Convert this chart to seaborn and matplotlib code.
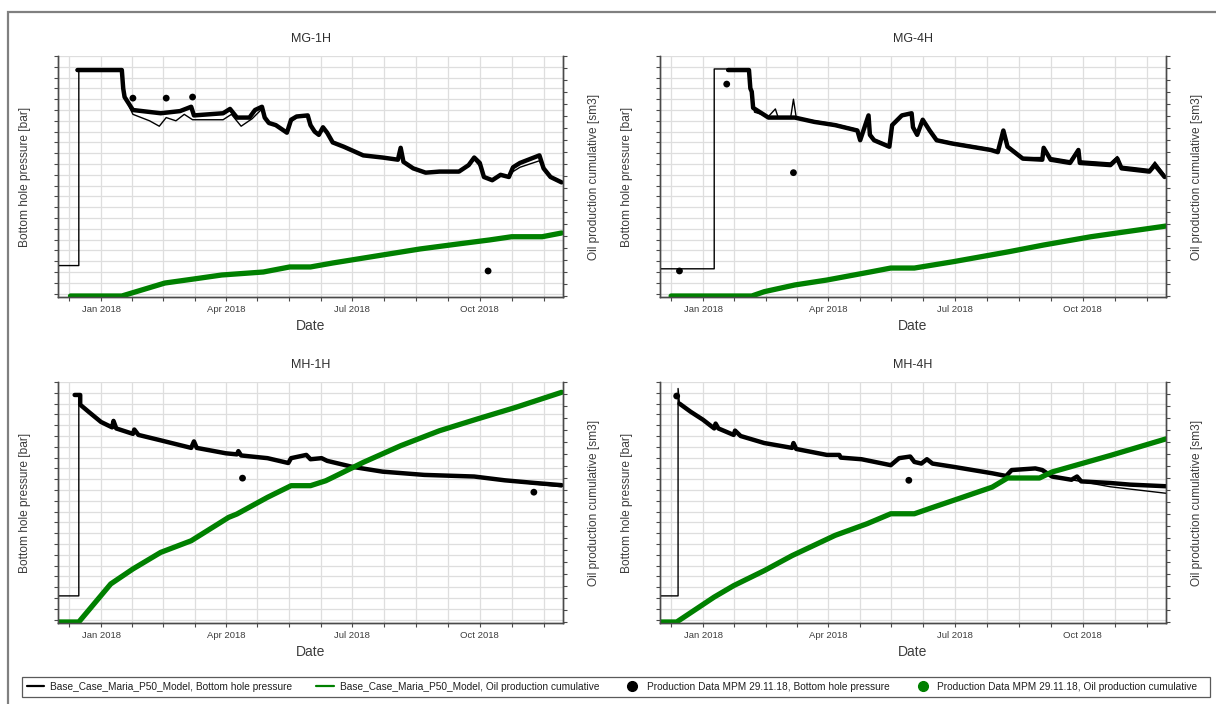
import numpy as np
import pandas as pd
import matplotlib
matplotlib.use("Agg")
import matplotlib.pyplot as plt
import matplotlib.dates as mdates
from matplotlib.lines import Line2D
from matplotlib.patches import Rectangle
from matplotlib.ticker import MultipleLocator, FixedLocator, NullFormatter
import seaborn as sns

sns.set_style("ticks")
plt.rcParams["font.family"] = ["Liberation Sans", "DejaVu Sans"]

WELLS = ["MG-1H", "MG-4H", "MH-1H", "MH-4H"]
X_TICK_LABELS = ["Jan 2018", "Apr 2018", "Jul 2018", "Oct 2018"]
X_TICK_DATES = ["2018-01-01", "2018-04-01", "2018-07-01", "2018-10-01"]
X_RANGE = ["2017-12-01", "2018-11-30"]

# ---------------- MG-1H ----------------
MG1H_OBS_DATES = ["2017-12-15", "2017-12-22", "2018-01-01", "2018-01-16", "2018-01-17", "2018-01-18",
                  "2018-01-24", "2018-02-13", "2018-02-27", "2018-03-07", "2018-03-09", "2018-03-30",
                  "2018-04-04", "2018-04-09", "2018-04-18", "2018-04-22", "2018-04-27", "2018-04-29",
                  "2018-05-02", "2018-05-07", "2018-05-15", "2018-05-18", "2018-05-22", "2018-05-30",
                  "2018-06-01", "2018-06-04", "2018-06-07", "2018-06-10", "2018-06-13", "2018-06-17",
                  "2018-06-25", "2018-07-09", "2018-07-23", "2018-08-03", "2018-08-05", "2018-08-07",
                  "2018-08-14", "2018-08-23", "2018-09-02", "2018-09-16", "2018-09-23", "2018-09-27",
                  "2018-10-01", "2018-10-04", "2018-10-10", "2018-10-16", "2018-10-22", "2018-10-25",
                  "2018-10-30", "2018-11-13", "2018-11-16", "2018-11-21", "2018-11-29"]
MG1H_OBS_BHP = [357, 357, 357, 357, 340, 332,
                320, 317, 319, 323, 315, 317,
                321, 313, 313, 320, 323, 313,
                308, 306, 299, 311, 314, 315,
                306, 300, 297, 304, 299, 290,
                286, 278, 276, 274, 285, 272,
                266, 262, 263, 263, 269, 276,
                271, 258, 255, 260, 258, 267,
                271, 278, 266, 258, 253]
MG1H_MODEL_DATES = ["2017-12-01", "2017-12-16", "2017-12-16", "2018-01-16", "2018-01-18", "2018-01-24",
                    "2018-02-05", "2018-02-12", "2018-02-17", "2018-02-24", "2018-03-02", "2018-03-08",
                    "2018-03-30", "2018-04-05", "2018-04-12", "2018-04-20", "2018-04-27", "2018-04-29",
                    "2018-05-02", "2018-05-07", "2018-05-15", "2018-05-18", "2018-05-22", "2018-05-30",
                    "2018-06-01", "2018-06-04", "2018-06-07", "2018-06-10", "2018-06-13", "2018-06-17",
                    "2018-06-25", "2018-07-09", "2018-07-23", "2018-08-03", "2018-08-05", "2018-08-07",
                    "2018-08-14", "2018-08-23", "2018-09-02", "2018-09-16", "2018-09-23", "2018-09-27",
                    "2018-10-01", "2018-10-04", "2018-10-10", "2018-10-16", "2018-10-22", "2018-10-25",
                    "2018-10-30", "2018-11-13", "2018-11-16", "2018-11-21", "2018-11-29"]
MG1H_MODEL_BHP = [176, 176, 357, 357, 332, 316,
                  310, 305, 313, 310, 316, 311,
                  311, 316, 305, 312, 321, 313,
                  308, 306, 299, 309, 313, 314,
                  306, 300, 297, 303, 299, 290,
                  286, 278, 276, 274, 283, 272,
                  266, 262, 263, 263, 268, 274,
                  268, 258, 256, 259, 258, 263,
                  267, 273, 265, 258, 253]
MG1H_SPOT_DATES = ["2018-01-24", "2018-02-17", "2018-03-08", "2018-10-07"]
MG1H_SPOT_BHP = [331, 331, 332, 171]
MG1H_OIL_DATES = ["2017-12-10", "2018-01-16", "2018-02-16", "2018-03-09", "2018-03-29", "2018-04-28",
                  "2018-05-17", "2018-06-01", "2018-06-17", "2018-07-23", "2018-08-19", "2018-09-15",
                  "2018-10-08", "2018-10-24", "2018-11-15", "2018-11-29"]
MG1H_OIL = [0, 0, 10800, 14200, 17500, 20000,
            24200, 24200, 27500, 34200, 39200, 43300,
            46700, 49400, 49400, 52500]

# ---------------- MG-4H ----------------
MG4H_OBS_DATES = ["2018-01-19", "2018-02-03", "2018-02-04", "2018-02-05", "2018-02-06", "2018-02-17",
                  "2018-03-08", "2018-03-22", "2018-04-06", "2018-04-22", "2018-04-24", "2018-04-30",
                  "2018-05-01", "2018-05-04", "2018-05-15", "2018-05-17", "2018-05-24", "2018-05-31",
                  "2018-06-01", "2018-06-04", "2018-06-08", "2018-06-13", "2018-06-18", "2018-06-29",
                  "2018-07-27", "2018-08-01", "2018-08-05", "2018-08-08", "2018-08-19", "2018-09-02",
                  "2018-09-03", "2018-09-08", "2018-09-22", "2018-09-28", "2018-09-29", "2018-10-21",
                  "2018-10-26", "2018-10-29", "2018-11-18", "2018-11-22", "2018-11-29"]
MG4H_OBS_BHP = [357, 357, 340, 337, 322, 313,
                313, 309, 306, 301, 292, 315,
                297, 292, 286, 306, 315, 317,
                304, 297, 311, 301, 292, 289,
                283, 281, 301, 286, 275, 274,
                285, 274, 271, 283, 271, 269,
                275, 266, 263, 269, 258]
MG4H_MODEL_DATES = ["2017-12-01", "2018-01-09", "2018-01-09", "2018-02-03", "2018-02-05", "2018-02-07",
                    "2018-02-17", "2018-02-22", "2018-02-24", "2018-03-05", "2018-03-07", "2018-03-09",
                    "2018-03-22", "2018-04-06", "2018-04-22", "2018-04-24", "2018-04-30", "2018-05-01",
                    "2018-05-04", "2018-05-15", "2018-05-17", "2018-05-24", "2018-05-31", "2018-06-01",
                    "2018-06-04", "2018-06-08", "2018-06-13", "2018-06-18", "2018-06-29", "2018-07-27",
                    "2018-08-01", "2018-08-05", "2018-08-08", "2018-08-19", "2018-09-02", "2018-09-03",
                    "2018-09-08", "2018-09-22", "2018-09-28", "2018-09-29", "2018-10-21", "2018-10-26",
                    "2018-10-29", "2018-11-18", "2018-11-22", "2018-11-29"]
MG4H_MODEL_BHP = [173, 173, 358, 358, 336, 318,
                  314, 321, 313, 313, 330, 313,
                  310, 307, 302, 293, 314, 298,
                  293, 287, 306, 315, 317, 305,
                  298, 311, 302, 293, 290, 284,
                  282, 300, 287, 276, 276, 286,
                  276, 273, 284, 273, 271,
                  277, 268, 265, 272, 260]
MG4H_SPOT_DATES = ["2017-12-15", "2018-01-18", "2018-03-07"]
MG4H_SPOT_BHP = [171, 344, 262]
MG4H_OIL_DATES = ["2017-12-09", "2018-02-05", "2018-02-14", "2018-03-08", "2018-03-31", "2018-05-02",
                  "2018-05-16", "2018-06-02", "2018-06-30", "2018-08-09", "2018-09-03", "2018-10-07",
                  "2018-11-30"]
MG4H_OIL = [0, 0, 3600, 9200, 13300, 20200,
            23300, 23300, 28600, 36900, 42500, 49400,
            58300]

# ---------------- MH-1H ----------------
MH1H_OBS_DATES = ["2017-12-13", "2017-12-17", "2017-12-17", "2017-12-23", "2018-01-01", "2018-01-09",
                  "2018-01-10", "2018-01-12", "2018-01-24", "2018-01-25", "2018-01-28", "2018-02-13",
                  "2018-03-07", "2018-03-09", "2018-03-11", "2018-04-01", "2018-04-09", "2018-04-10",
                  "2018-04-12", "2018-05-01", "2018-05-16", "2018-05-18", "2018-05-29", "2018-06-01",
                  "2018-06-09", "2018-06-13", "2018-07-01", "2018-07-23", "2018-08-22", "2018-09-27",
                  "2018-10-19", "2018-11-10", "2018-11-29"]
MH1H_OBS_BHP = [358, 358, 349, 342.5, 333, 328,
                334, 327, 322, 326, 321, 316,
                309, 315, 309, 304, 303, 306,
                302, 299.5, 295, 299.5, 302.5, 298.5,
                299.5, 297, 291.5, 287, 284, 282.5,
                279, 276.5, 274.5]
MH1H_MODEL_DATES = ["2017-12-01", "2017-12-16", "2017-12-16", "2017-12-23", "2018-01-01", "2018-01-09",
                    "2018-01-10", "2018-01-12", "2018-01-24", "2018-01-25", "2018-01-28", "2018-02-13",
                    "2018-03-07", "2018-03-09", "2018-03-11", "2018-04-01", "2018-04-09", "2018-04-10",
                    "2018-04-12", "2018-05-01", "2018-05-16", "2018-05-18", "2018-05-29", "2018-06-01",
                    "2018-06-09", "2018-06-13", "2018-07-01", "2018-07-23", "2018-08-22", "2018-09-27",
                    "2018-10-19", "2018-11-10", "2018-11-29"]
MH1H_MODEL_BHP = [172, 172, 350, 342.5, 333, 328,
                  334, 327, 322, 326, 321, 316,
                  309, 315, 309, 304, 303, 306,
                  302, 299.5, 295, 299.5, 302.5, 298.5,
                  299.5, 297, 291.5, 287, 284, 282,
                  278.5, 275.5, 273]
MH1H_SPOT_DATES = ["2018-04-13", "2018-11-09"]
MH1H_SPOT_BHP = [281, 268]
MH1H_OIL_DATES = ["2017-12-01", "2017-12-16", "2018-01-08", "2018-01-24", "2018-02-13", "2018-03-07",
                  "2018-04-03", "2018-04-09", "2018-05-01", "2018-05-18", "2018-06-01", "2018-06-12",
                  "2018-06-17", "2018-07-09", "2018-08-05", "2018-09-02", "2018-09-29", "2018-10-27",
                  "2018-11-29"]
MH1H_OIL = [0, 0, 31700, 44200, 58000, 67700,
            87200, 90000, 103900, 113600, 113600, 117700,
            120500, 133000, 146900, 159400, 169100, 178900,
            191400]

# ---------------- MH-4H ----------------
MH4H_OBS_DATES = ["2017-12-15", "2017-12-23", "2018-01-01", "2018-01-09", "2018-01-10", "2018-01-12",
                  "2018-01-23", "2018-01-24", "2018-01-28", "2018-02-14", "2018-03-06", "2018-03-07",
                  "2018-03-09", "2018-03-31", "2018-04-09", "2018-04-10", "2018-04-25", "2018-05-16",
                  "2018-05-22", "2018-05-30", "2018-06-02", "2018-06-07", "2018-06-11", "2018-06-15",
                  "2018-06-30", "2018-07-28", "2018-08-07", "2018-08-11", "2018-08-28", "2018-09-02",
                  "2018-09-09", "2018-09-23", "2018-09-27", "2018-09-30", "2018-10-21", "2018-11-04",
                  "2018-11-30"]
MH4H_OBS_BHP = [350, 342.5, 335, 327, 331.5, 327,
                321, 325, 320, 313.5, 309, 313.5,
                308, 302.5, 302.5, 300, 298.5, 293,
                299.5, 301, 296, 294.5, 298.5, 294.5,
                291.5, 285.5, 283, 288.5, 290, 288.5,
                282.5, 279.5, 282.5, 278, 276.5, 275,
                273.5]
MH4H_MODEL_DATES = ["2017-12-01", "2017-12-14", "2017-12-14", "2017-12-15", "2017-12-23", "2018-01-01",
                    "2018-01-09", "2018-01-10", "2018-01-12", "2018-01-23", "2018-01-24", "2018-01-28",
                    "2018-02-14", "2018-03-06", "2018-03-07", "2018-03-09", "2018-03-31", "2018-04-09",
                    "2018-04-10", "2018-04-25", "2018-05-16", "2018-05-22", "2018-05-30", "2018-06-02",
                    "2018-06-07", "2018-06-11", "2018-06-15", "2018-06-30", "2018-07-28", "2018-08-07",
                    "2018-08-11", "2018-08-28", "2018-09-02", "2018-09-09", "2018-09-23", "2018-10-21",
                    "2018-11-30"]
MH4H_MODEL_BHP = [172, 172, 364, 350, 342.5, 335,
                  327, 331.5, 327, 321, 325, 320,
                  313.5, 309, 313.5, 308, 302.5, 302.5,
                  300, 298.5, 293, 299.5, 301, 296,
                  294.5, 298.5, 294.5, 291.5, 285.5, 283,
                  288.5, 290, 288.5, 282.5, 279.5, 273,
                  267]
MH4H_SPOT_DATES = ["2017-12-13", "2018-05-29"]
MH4H_SPOT_BHP = [357, 279]
MH4H_OIL_DATES = ["2017-12-01", "2017-12-13", "2018-01-09", "2018-01-23", "2018-02-14", "2018-03-06",
                  "2018-04-06", "2018-04-29", "2018-05-16", "2018-06-02", "2018-06-16", "2018-06-30",
                  "2018-07-28", "2018-08-08", "2018-08-31", "2018-09-09", "2018-10-21", "2018-11-30"]
MH4H_OIL = [0, 0, 20800, 30300, 42800, 55300,
            72200, 81900, 90200, 90200, 95800, 101300,
            112400, 120000, 120000, 125000, 138800, 152600]

SERIES = {
    "MG-1H": (MG1H_OBS_DATES, MG1H_OBS_BHP, MG1H_MODEL_DATES, MG1H_MODEL_BHP,
              MG1H_SPOT_DATES, MG1H_SPOT_BHP, MG1H_OIL_DATES, MG1H_OIL),
    "MG-4H": (MG4H_OBS_DATES, MG4H_OBS_BHP, MG4H_MODEL_DATES, MG4H_MODEL_BHP,
              MG4H_SPOT_DATES, MG4H_SPOT_BHP, MG4H_OIL_DATES, MG4H_OIL),
    "MH-1H": (MH1H_OBS_DATES, MH1H_OBS_BHP, MH1H_MODEL_DATES, MH1H_MODEL_BHP,
              MH1H_SPOT_DATES, MH1H_SPOT_BHP, MH1H_OIL_DATES, MH1H_OIL),
    "MH-4H": (MH4H_OBS_DATES, MH4H_OBS_BHP, MH4H_MODEL_DATES, MH4H_MODEL_BHP,
              MH4H_SPOT_DATES, MH4H_SPOT_BHP, MH4H_OIL_DATES, MH4H_OIL),
}

MODEL_NAME = "Base_Case_Maria_P50_Model"
DATA_NAME = "Production Data MPM 29.11.18"

BLACK = "#000000"
GREEN = "#008000"
TEXT = "#3c3c3c"
SPINE = "#4a4a4a"
GRID = "#dedede"

W, H = 1216, 704
fig = plt.figure(figsize=(W / 100, H / 100), dpi=100)

# outer frame of the report page
fig.patches.append(Rectangle((8 / W, -0.1), 1.2, 0.1 + 1 - 12 / H, transform=fig.transFigure,
                             fill=False, edgecolor="#808080", linewidth=1.6, zorder=0))


def axes_rect(left, top, right, bottom):
    return [left / W, 1 - bottom / H, (right - left) / W, (bottom - top) / H]


RECTS = {
    "MG-1H": axes_rect(58, 56, 563, 297),
    "MG-4H": axes_rect(660, 56, 1166, 297),
    "MH-1H": axes_rect(58, 382, 563, 623),
    "MH-4H": axes_rect(660, 382, 1166, 623),
}

x_lo, x_hi = pd.to_datetime(X_RANGE)
quarters = mdates.date2num(pd.to_datetime(["2017-10-01"] + X_TICK_DATES + ["2019-01-01"]))
minor_pos = []
for a, b in zip(quarters[:-1], quarters[1:]):
    minor_pos.extend(np.linspace(a, b, 5)[1:-1])
major_pos = mdates.date2num(pd.to_datetime(X_TICK_DATES))

for well in WELLS:
    (obs_d, obs_v, mod_d, mod_v, spot_d, spot_v, oil_d, oil_v) = SERIES[well]
    ax = fig.add_axes(RECTS[well])
    ax2 = ax.twinx()

    obs = pd.DataFrame({"date": pd.to_datetime(obs_d), "bhp": obs_v})
    mod = pd.DataFrame({"date": pd.to_datetime(mod_d), "bhp": mod_v})
    spot = pd.DataFrame({"date": pd.to_datetime(spot_d), "bhp": spot_v})
    oil = pd.DataFrame({"date": pd.to_datetime(oil_d), "oil": oil_v})

    # bottom hole pressure: observed (dense daily dots, drawn as a heavy trace) and simulated
    sns.lineplot(data=obs, x="date", y="bhp", ax=ax, color=BLACK, linewidth=3.2,
                 estimator=None, sort=False, solid_capstyle="round",
                 solid_joinstyle="round", zorder=3)
    sns.lineplot(data=mod, x="date", y="bhp", ax=ax, color=BLACK, linewidth=1.0,
                 estimator=None, sort=False, zorder=4)
    sns.scatterplot(data=spot, x="date", y="bhp", ax=ax, color=BLACK, s=24,
                    edgecolor="none", zorder=5)

    # cumulative oil on the secondary axis
    sns.lineplot(data=oil, x="date", y="oil", ax=ax2, color=GREEN, linewidth=3.8,
                 estimator=None, sort=False, solid_capstyle="round")
    sns.lineplot(data=oil, x="date", y="oil", ax=ax2, color=GREEN, linewidth=1.0,
                 estimator=None, sort=False)

    ax.set_xlim(x_lo, x_hi)
    ax.set_ylim(146.9, 370)
    ax2.set_ylim(-833, 200000)

    ax.xaxis.set_major_locator(FixedLocator(major_pos))
    ax.xaxis.set_minor_locator(FixedLocator(minor_pos))
    ax.set_xticklabels(X_TICK_LABELS)
    ax.xaxis.set_minor_formatter(NullFormatter())
    ax.yaxis.set_major_locator(MultipleLocator(10))
    ax.yaxis.set_major_formatter(NullFormatter())
    ax2.yaxis.set_major_locator(MultipleLocator(10000))
    ax2.yaxis.set_major_formatter(NullFormatter())

    ax.grid(True, which="both", axis="x", color=GRID, linewidth=0.9)
    ax.grid(True, which="major", axis="y", color=GRID, linewidth=0.9)
    ax.set_axisbelow(True)
    ax2.grid(False)

    for a in (ax, ax2):
        a.spines["top"].set_visible(False)
        for s in ("left", "right", "bottom"):
            a.spines[s].set_color(SPINE)
            a.spines[s].set_linewidth(1.0)
    ax.tick_params(axis="x", which="both", length=3, width=0.8, color=SPINE,
                   labelsize=6.8, labelcolor=TEXT, pad=3)
    ax.tick_params(axis="y", which="both", length=3, width=0.8, color=SPINE)
    ax2.tick_params(axis="y", which="both", length=3, width=0.8, color=SPINE)

    ax.set_title(well, fontsize=9, color="#2e2e2e", pad=10)
    ax.set_xlabel("Date", fontsize=10, color=TEXT)
    ax.xaxis.label.set_verticalalignment("center")
    ax.xaxis.set_label_coords(0.5, -29.5 / 241)
    ax.set_ylabel("Bottom hole pressure [bar]", fontsize=8.6, color=TEXT)
    ax.yaxis.label.set_verticalalignment("center")
    ax.yaxis.set_label_coords(-33 / 505, 0.5)
    ax2.set_ylabel("Oil production cumulative [sm3]", fontsize=8.6, color=TEXT)
    ax2.yaxis.label.set_verticalalignment("center")
    ax2.yaxis.set_label_coords(1 + 31 / 505, 0.5)

# shared legend along the bottom edge
fig.patches.append(Rectangle((22 / W, 1 - 697 / H), 1188 / W, 20 / H, transform=fig.transFigure,
                             fill=False, edgecolor="#5a5a5a", linewidth=0.9))
handles = [
    Line2D([], [], color=BLACK, linewidth=1.6),
    Line2D([], [], color=GREEN, linewidth=1.6),
    Line2D([], [], color=BLACK, linestyle="none", marker="o", markersize=7),
    Line2D([], [], color=GREEN, linestyle="none", marker="o", markersize=7),
]
labels = [f"{MODEL_NAME}, Bottom hole pressure", f"{MODEL_NAME}, Oil production cumulative",
          f"{DATA_NAME}, Bottom hole pressure", f"{DATA_NAME}, Oil production cumulative"]
fig.legend(handles, labels, ncol=4, loc="center", bbox_to_anchor=(612 / W, 1 - 687 / H),
           frameon=False, fontsize=7.3, handlelength=1.7, handletextpad=0.6,
           columnspacing=2.4, labelcolor="#202020")

fig.savefig("out.png", dpi=100)
